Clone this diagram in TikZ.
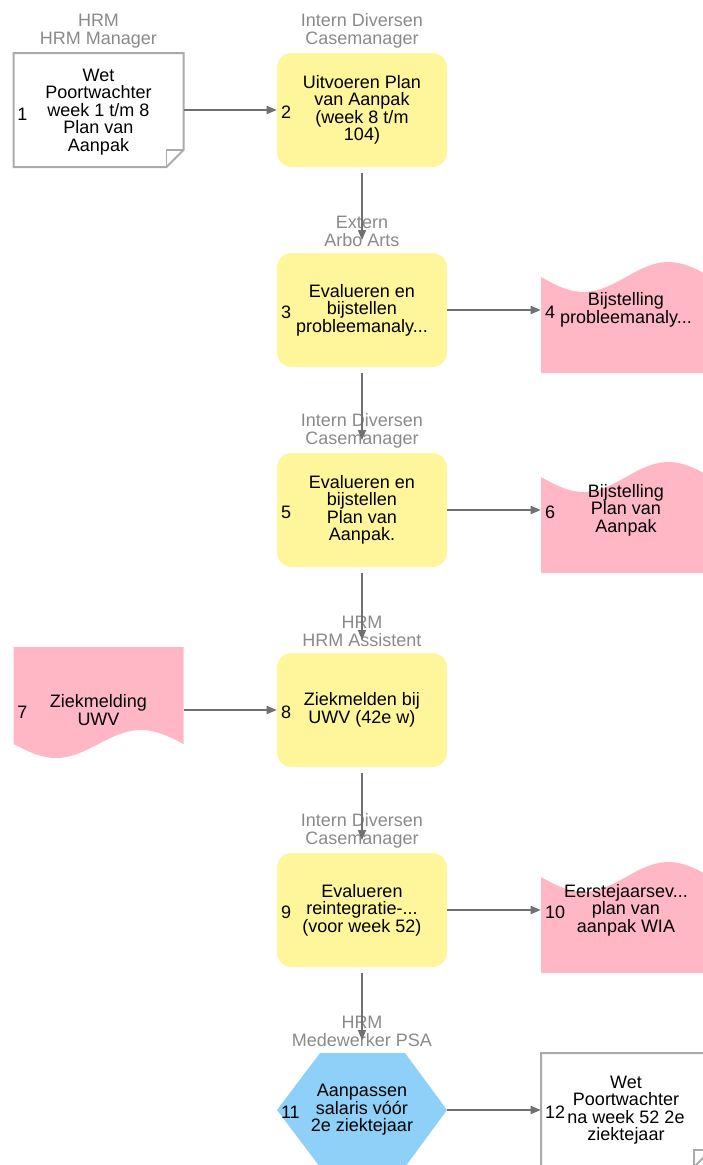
\documentclass[tikz,border=0pt]{standalone}
\usepackage{fontspec}
\setmainfont{Liberation Sans}
\usetikzlibrary{arrows.meta, positioning, calc}
\definecolor{cYellow}{RGB}{255,245,154}
\definecolor{cPink}{RGB}{255,183,197}
\definecolor{cBlue}{RGB}{142,208,247}
\definecolor{cLine}{RGB}{112,112,112}
\definecolor{cLane}{RGB}{138,138,138}
\definecolor{cEdge}{RGB}{170,170,170}
\tikzset{
	box/.style    ={rectangle, minimum width=127.5pt, minimum height=85.5pt, align=center, inner sep=0pt},
	task/.style   ={box, rounded corners=11pt, fill=cYellow},
	lane/.style   ={text=cLane, align=center, font=\fontsize{13.5}{13.5}\selectfont},
	numlbl/.style ={anchor=west, inner sep=0pt},
	flow/.style   ={-{Triangle[length=7.5pt, width=6pt]}, draw=cLine, line width=1.1pt},
}
% pink document, wavy top edge, centre (#1,#2)
\newcommand{\waveTop}[2]{%
	\fill[cPink] ({#1-85},{#2+63}) -- ({#1-85},{#2-33})
		-- plot[domain=0:1, samples=40] ({#1-85+170*\x},{#2-33+15*sin(\x*360)})
		-- ({#1+85},{#2+63}) -- cycle;}
% pink document, wavy bottom edge
\newcommand{\waveBot}[2]{%
	\fill[cPink] ({#1-85},{#2-63}) -- ({#1+85},{#2-63}) -- ({#1+85},{#2+34})
		-- plot[domain=1:0, samples=40] ({#1-85+170*\x},{#2+34+14*sin(\x*360)})
		-- cycle;}
% white document with folded corner
\newcommand{\docFold}[2]{%
	\draw[cEdge, fill=white, line width=1.5pt] ({#1-85},{#2-57}) -- ({#1+85},{#2-57})
		-- ({#1+85},{#2+40}) -- ({#1+68},{#2+57}) -- ({#1-85},{#2+57}) -- cycle;
	\draw[cEdge, line width=1.2pt] ({#1+68},{#2+57}) -- ({#1+68},{#2+40}) -- ({#1+85},{#2+40});}
% blue hexagon
\newcommand{\hexa}[2]{%
	\fill[cBlue] ({#1-85},#2) -- ({#1-42},{#2-57}) -- ({#1+43},{#2-57})
		-- ({#1+85},#2) -- ({#1+43},{#2+57}) -- ({#1-42},{#2+57}) -- cycle;}

\begin{document}
\begin{tikzpicture}[x=0.75pt, y=-0.75pt, font=\fontsize{13.5}{13.1}\selectfont]
	\useasboundingbox (0,0) rectangle (703,1165);
	\clip (0,0) rectangle (703,1165);
	% shapes
	\docFold{98.5}{110}
	\waveTop{626}{310}
	\waveTop{626}{510}
	\waveBot{98.5}{710}
	\waveTop{626}{910}
	\hexa{362}{1110}
	\docFold{626}{1110}
	% steps
	\node[box]  (s1)  at (98.5,112) {Wet\\Poortwachter\\week 1 t/m 8\\Plan van\\Aanpak};
	\node[task] (s2)  at (362,110)  {Uitvoeren Plan\\van Aanpak\\(week 8 t/m\\104)};
	\node[task] (s3)  at (362,310)  {Evalueren en\\bijstellen\\probleemanaly...};
	\node[box]  (s4)  at (626,310)  {Bijstelling\\probleemanaly...};
	\node[task] (s5)  at (362,510)  {Evalueren en\\bijstellen\\Plan van\\Aanpak.};
	\node[box]  (s6)  at (626,510)  {Bijstelling\\Plan van\\Aanpak};
	\node[box]  (s7)  at (98.5,710) {Ziekmelding\\UWV};
	\node[task] (s8)  at (362,710)  {Ziekmelden bij\\UWV (42e w)};
	\node[task] (s9)  at (362,910)  {Evalueren\\reintegratie-...\\(voor week 52)};
	\node[box]  (s10) at (626,910)  {Eerstejaarsev...\\plan van\\aanpak WIA};
	\node[box]  (s11) at (362,1110) {Aanpassen\\salaris vóór\\2e ziektejaar};
	\node[box]  (s12) at (626,1110) {Wet\\Poortwachter\\na week 52 2e\\ziektejaar};
	% numbers
	\foreach \n in {1,...,12}
		\node[numlbl] (k\n) at ($(s\n.west)+(4,2)$) {\n};
	% lanes
	\node[lane] (l1)  at (98.5,31) {HRM\\HRM Manager};
	\node[lane] (l2)  at (362,31)  {Intern Diversen\\Casemanager};
	\node[lane] (l3)  at (362,231) {Extern\\Arbo Arts};
	\node[lane] (l5)  at (362,431) {Intern Diversen\\Casemanager};
	\node[lane] (l8)  at (362,631) {HRM\\HRM Assistent};
	\node[lane] (l9)  at (362,831) {Intern Diversen\\Casemanager};
	\node[lane] (l11) at (362,1031) {HRM\\Medewerker PSA};
	% flow
	\draw[flow] (s1.east |- s2) -- (s2);
	\draw[flow] (s3) -- (s4);
	\draw[flow] (s5) -- (s6);
	\draw[flow] (s7) -- (s8);
	\draw[flow] (s9) -- (s10);
	\draw[flow] (s11) -- (s12);
	\foreach \a/\b in {2/3, 3/5, 5/8, 8/9, 9/11}
		\draw[flow, shorten <=4.5pt, shorten >=9.5pt] (s\a) -- (s\b);
\end{tikzpicture}
\end{document}
